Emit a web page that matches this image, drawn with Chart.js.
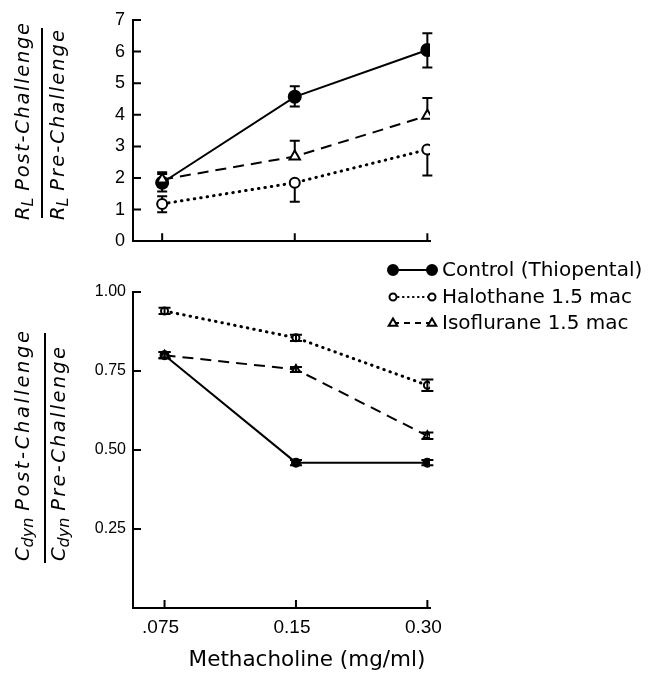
<!DOCTYPE html>
<html lang="en">
<head>
<meta charset="UTF-8">
<title>Methacholine challenge</title>
<script src="https://cdn.jsdelivr.net/npm/chart.js@4.4.1/dist/chart.umd.min.js"></script>
<style>
  body { margin: 0; background: #fff; }
  #wrap { position: relative; width: 649px; height: 674px; }
  #topChart { position: absolute; left: 0; top: 0; }
  #bottomChart { position: absolute; left: 0; top: 255px; }
</style>
</head>
<body>
<div id="wrap">
  <canvas id="topChart" width="649" height="260"></canvas>
  <canvas id="bottomChart" width="649" height="419"></canvas>
</div>
<script>
const doses = ['.075', '0.15', '0.30'];
const seriesNames = ['Control (Thiopental)', 'Halothane 1.5 mac', 'Isoflurane 1.5 mac'];
const xTitle = 'Methacholine (mg/ml)';

// R_L post/pre ratio (top panel), with error bar ends (null = no bar on that side)
const rlControl = [1.85, 4.57, 6.05];
const rlControlLo = [1.57, 4.26, 5.5];
const rlControlHi = [2.18, 4.9, 6.58];
const rlHalothane = [1.18, 1.85, 2.9];
const rlHalothaneLo = [0.92, 1.25, 2.08];
const rlHalothaneHi = [1.42, null, null];
const rlIsoflurane = [1.95, 2.68, 3.97];
const rlIsofluraneLo = [1.72, null, null];
const rlIsofluraneHi = [2.13, 3.18, 4.53];

// Cdyn post/pre ratio (bottom panel), symmetric error
const cdControl = [0.80, 0.46, 0.46];
const cdControlErr = [0.01, 0.008, 0.008];
const cdHalothane = [0.94, 0.855, 0.705];
const cdHalothaneErr = [0.01, 0.01, 0.018];
const cdIsoflurane = [0.80, 0.755, 0.545];
const cdIsofluraneErr = [0.01, 0.008, 0.01];

const FONT = '"DejaVu Sans", sans-serif';
const LFONT = '"Liberation Sans", Arial, sans-serif';

const styles = [
  { borderDash: [], borderWidth: 2, pointStyle: 'circle', fill: '#000', cap: 'butt' },
  { borderDash: [0.5, 6], borderWidth: 3, pointStyle: 'circle', fill: '#fff', cap: 'round' },
  { borderDash: [11, 7], borderWidth: 2, pointStyle: 'triangle', fill: '#fff', cap: 'butt' }
];

function pts(values) {
  return values.map((v, i) => ({ x: i, y: v }));
}

function makeDataset(i, values, lo, hi, radius) {
  const s = styles[i];
  return {
    label: seriesNames[i],
    data: pts(values),
    errLo: lo,
    errHi: hi,
    borderColor: '#000',
    borderWidth: s.borderWidth,
    borderDash: s.borderDash,
    borderCapStyle: s.cap,
    pointStyle: s.pointStyle,
    pointRadius: s.pointStyle === 'triangle' ? radius + 1 : radius,
    pointBorderWidth: 2,
    pointBorderColor: '#000',
    pointBackgroundColor: s.fill,
    tension: 0,
    fill: false
  };
}

const errorBars = {
  id: 'errorBars',
  draw(chart) {
    const ctx = chart.ctx, ys = chart.scales.y;
    const w = chart.options.plugins.errorBars.cap;
    chart.data.datasets.forEach((ds, i) => {
      chart.getDatasetMeta(i).data.forEach((pt, j) => {
        const lo = ds.errLo[j], hi = ds.errHi[j];
        const y0 = lo == null ? pt.y : ys.getPixelForValue(lo);
        const y1 = hi == null ? pt.y : ys.getPixelForValue(hi);
        ctx.save();
        ctx.strokeStyle = '#000';
        ctx.lineWidth = 2;
        ctx.beginPath();
        ctx.moveTo(pt.x, y0);
        ctx.lineTo(pt.x, y1);
        if (lo != null) { ctx.moveTo(pt.x - w, y0); ctx.lineTo(pt.x + w, y0); }
        if (hi != null) { ctx.moveTo(pt.x - w, y1); ctx.lineTo(pt.x + w, y1); }
        ctx.stroke();
        ctx.restore();
      });
    });
  },
  beforeDatasetsDraw(chart) {
    if (!chart.options.plugins.errorBars.front) this.draw(chart);
  },
  afterDatasetsDraw(chart) {
    if (chart.options.plugins.errorBars.front) this.draw(chart);
  }
};

// tick marks pointing into the plot
const innerTicks = {
  id: 'innerTicks',
  afterDraw(chart) {
    const { ctx, chartArea, scales } = chart;
    const yt = chart.options.plugins.innerTicks.yValues;
    ctx.save();
    ctx.strokeStyle = '#000';
    ctx.lineWidth = 2;
    ctx.beginPath();
    yt.forEach(v => {
      const py = scales.y.getPixelForValue(v);
      ctx.moveTo(chartArea.left, py);
      ctx.lineTo(chartArea.left + 8, py);
    });
    doses.forEach((d, i) => {
      const px = scales.x.getPixelForValue(i);
      ctx.moveTo(px, chartArea.bottom);
      ctx.lineTo(px, chartArea.bottom - 8);
    });
    ctx.stroke();
    ctx.restore();
  }
};

// rotated oblique label, lightly letter-spaced so it runs over `len` pixels
function drawRotLabel(ctx, x, y, sym, sub, rest, size, len) {
  ctx.save();
  ctx.translate(x, y);
  ctx.rotate(-Math.PI / 2);
  ctx.fillStyle = '#000';
  ctx.textAlign = 'left';
  ctx.textBaseline = 'alphabetic';
  const main = 'italic ' + size + 'px ' + FONT;
  const small = 'italic ' + Math.round(size * 0.8) + 'px ' + FONT;
  let u = 0;
  ctx.font = main;
  ctx.fillText(sym, u, 0);
  u += ctx.measureText(sym).width;
  ctx.font = small;
  ctx.fillText(sub, u, size * 0.2);
  u += ctx.measureText(sub).width + size * 0.35;
  ctx.font = main;
  const chars = rest.split('');
  const natural = ctx.measureText(rest).width;
  const gap = Math.max(0, (len - u - natural) / (chars.length - 1));
  chars.forEach(c => {
    ctx.fillText(c, u, 0);
    u += ctx.measureText(c).width + gap;
  });
  ctx.restore();
}

// ratio label drawn as a vertical fraction
const ratioTitle = {
  id: 'ratioTitle',
  afterDraw(chart) {
    const o = chart.options.plugins.ratioTitle;
    const ctx = chart.ctx;
    drawRotLabel(ctx, o.numX, o.startY, o.sym, o.sub, 'Post-Challenge', o.size, o.numLen);
    drawRotLabel(ctx, o.denX, o.startY, o.sym, o.sub, 'Pre-Challenge', o.size, o.denLen);
    ctx.save();
    ctx.strokeStyle = '#000';
    ctx.lineWidth = 2;
    ctx.beginPath();
    ctx.moveTo(o.lineX, o.lineTop);
    ctx.lineTo(o.lineX, o.lineBottom);
    ctx.stroke();
    ctx.restore();
  }
};

function marker(ctx, style, x, y, r) {
  ctx.beginPath();
  if (style.pointStyle === 'triangle') {
    ctx.moveTo(x, y - r);
    ctx.lineTo(x + r * 0.95, y + r * 0.6);
    ctx.lineTo(x - r * 0.95, y + r * 0.6);
    ctx.closePath();
  } else {
    ctx.arc(x, y, r, 0, Math.PI * 2);
  }
  ctx.fillStyle = style.fill;
  ctx.fill();
  ctx.lineWidth = 2;
  ctx.setLineDash([]);
  ctx.stroke();
}

const sideLegend = {
  id: 'sideLegend',
  afterDraw(chart) {
    const ctx = chart.ctx;
    const rows = [15, 42, 68];
    const radii = [5, 3.5, 4.5];
    ctx.save();
    ctx.strokeStyle = '#000';
    rows.forEach((ry, i) => {
      const s = styles[i];
      ctx.lineWidth = i === 1 ? 2.2 : 2;
      ctx.lineCap = s.cap;
      ctx.setLineDash(i === 1 ? [0.5, 4.5] : i === 2 ? [6, 5] : []);
      ctx.beginPath();
      ctx.moveTo(393, ry);
      ctx.lineTo(432, ry);
      ctx.stroke();
      ctx.lineCap = 'butt';
      marker(ctx, s, 393, ry, radii[i]);
      marker(ctx, s, 432, ry, radii[i]);
      ctx.fillStyle = '#000';
      ctx.font = '20px ' + FONT;
      ctx.textBaseline = 'middle';
      ctx.textAlign = 'left';
      ctx.fillText(seriesNames[i], 442, ry + 1);
    });
    ctx.restore();
  }
};

// x axis title, placed as in the original figure
const axisTitle = {
  id: 'axisTitle',
  afterDraw(chart) {
    const ctx = chart.ctx;
    ctx.save();
    ctx.fillStyle = '#000';
    ctx.font = '21.5px ' + FONT;
    ctx.textAlign = 'center';
    ctx.textBaseline = 'middle';
    ctx.fillText(xTitle, 307, 405);
    ctx.restore();
  }
};

function xScale(showLabels, min) {
  return {
    type: 'linear',
    min: min,
    max: 2.02,
    afterBuildTicks: s => { s.ticks = doses.map((d, i) => ({ value: i })); },
    ticks: {
      display: showLabels,
      autoSkip: false,
      maxRotation: 0,
      padding: 8,
      labelOffset: -4,
      color: '#000',
      font: { family: LFONT, size: 19 },
      callback: v => doses[v]
    },
    grid: { display: false, drawTicks: false },
    border: { display: true, color: '#000', width: 2 }
  };
}

const topChart = new Chart(document.getElementById('topChart'), {
  type: 'line',
  data: {
    datasets: [
      makeDataset(2, rlIsoflurane, rlIsofluraneLo, rlIsofluraneHi, 5),
      makeDataset(1, rlHalothane, rlHalothaneLo, rlHalothaneHi, 5),
      makeDataset(0, rlControl, rlControlLo, rlControlHi, 6)
    ]
  },
  options: {
    responsive: false,
    animation: false,
    layout: { padding: { left: 0, top: 20, right: 219, bottom: 0 } },
    scales: {
      x: Object.assign(xScale(false, -0.22), { afterFit: s => { s.height = 18; } }),
      y: {
        min: 0,
        max: 7,
        afterFit: s => { s.width = 133; },
        ticks: { stepSize: 1, padding: 8, color: '#000', font: { family: LFONT, size: 18 } },
        grid: { display: false, drawTicks: false },
        border: { display: true, color: '#000', width: 2 }
      }
    },
    plugins: {
      legend: { display: false },
      tooltip: { enabled: false },
      errorBars: { cap: 5, front: false },
      innerTicks: { yValues: [1, 2, 3, 4, 5, 6, 7] },
      ratioTitle: {
        sym: 'R', sub: 'L', numX: 29, denX: 64, lineX: 42, startY: 220,
        lineTop: 28, lineBottom: 218, size: 19.5, numLen: 197, denLen: 190
      }
    }
  },
  plugins: [errorBars, innerTicks, ratioTitle]
});

const bottomChart = new Chart(document.getElementById('bottomChart'), {
  type: 'line',
  data: {
    datasets: [
      makeDataset(2, cdIsoflurane, cdIsoflurane.map((v, i) => v - cdIsofluraneErr[i]), cdIsoflurane.map((v, i) => v + cdIsofluraneErr[i]), 3.5),
      makeDataset(1, cdHalothane, cdHalothane.map((v, i) => v - cdHalothaneErr[i]), cdHalothane.map((v, i) => v + cdHalothaneErr[i]), 3.5),
      makeDataset(0, cdControl, cdControl.map((v, i) => v - cdControlErr[i]), cdControl.map((v, i) => v + cdControlErr[i]), 4)
    ]
  },
  options: {
    responsive: false,
    animation: false,
    layout: { padding: { left: 0, top: 37, right: 219, bottom: 0 } },
    scales: {
      x: Object.assign(xScale(true, -0.24), { afterFit: s => { s.height = 66; } }),
      y: {
        min: 0,
        max: 1,
        afterFit: s => { s.width = 133; },
        ticks: {
          stepSize: 0.25,
          padding: 7,
          color: '#000',
          font: { family: LFONT, size: 16 },
          callback: v => (v === 0 ? '' : v.toFixed(2))
        },
        grid: { display: false, drawTicks: false },
        border: { display: true, color: '#000', width: 2 }
      }
    },
    plugins: {
      legend: { display: false },
      tooltip: { enabled: false },
      errorBars: { cap: 6, front: true },
      innerTicks: { yValues: [0.25, 0.5, 0.75, 1] },
      ratioTitle: {
        sym: 'C', sub: 'dyn', numX: 29, denX: 65, lineX: 45, startY: 306,
        lineTop: 78, lineBottom: 308, size: 19.5, numLen: 230, denLen: 214
      }
    }
  },
  plugins: [errorBars, innerTicks, ratioTitle, sideLegend, axisTitle]
});
</script>
</body>
</html>
